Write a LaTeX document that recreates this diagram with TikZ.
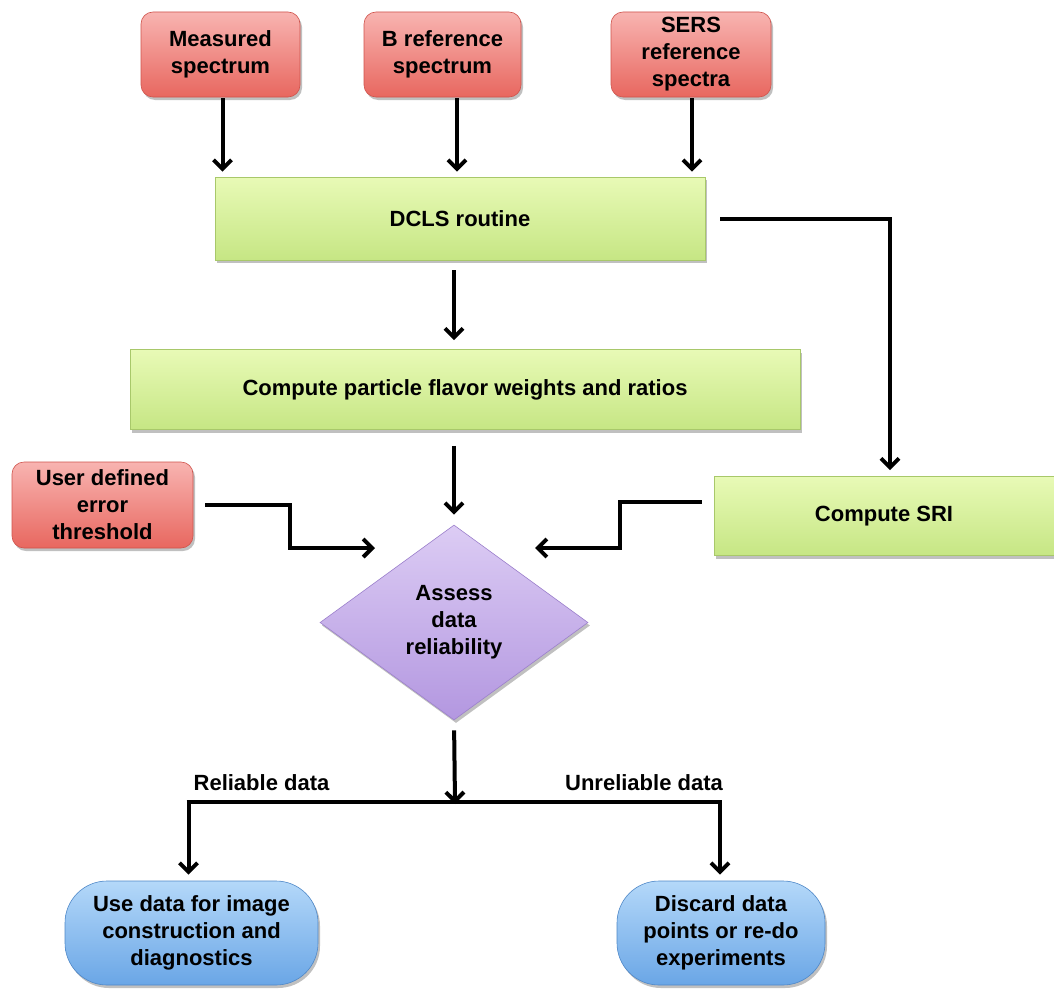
\documentclass[tikz,border=0pt]{standalone}
\usepackage{fontspec}
\setmainfont{Liberation Sans}
\usetikzlibrary{arrows.meta,shapes.geometric,shadows,calc}
\definecolor{redT}{HTML}{F8B4B1}
\definecolor{redB}{HTML}{E8675F}
\definecolor{redD}{HTML}{D0534C}
\definecolor{grnT}{HTML}{E8FAB6}
\definecolor{grnB}{HTML}{C6E684}
\definecolor{grnD}{HTML}{A8C86A}
\definecolor{purT}{HTML}{DCCCF4}
\definecolor{purB}{HTML}{B397E0}
\definecolor{purD}{HTML}{9C80CC}
\definecolor{bluT}{HTML}{B4D8F9}
\definecolor{bluB}{HTML}{6AA6E6}
\definecolor{bluD}{HTML}{4F88C8}
\tikzset{
  txt/.style={font=\bfseries\fontsize{22}{27}\selectfont, align=center, text=black},
  shd/.style={drop shadow={shadow xshift=2pt, shadow yshift=-3pt, opacity=0.35, fill=black!70}},
  inbox/.style={txt, shd, draw=redD, line width=0.6pt, rounded corners=12pt, top color=redT, bottom color=redB, inner sep=0pt},
  procbox/.style={txt, shd, draw=grnD, line width=0.6pt, top color=grnT, bottom color=grnB, inner sep=0pt},
  decbox/.style={txt, shd, diamond, draw=purD, line width=0.6pt, top color=purT, bottom color=purB, inner sep=0pt},
  outbox/.style={txt, shd, draw=bluD, line width=0.6pt, rounded corners=42pt, top color=bluT, bottom color=bluB, inner sep=0pt},
  arr/.style={line width=4pt, -{Straight Barb[length=9pt,width=18pt]}},
  lnk/.style={line width=4pt},
  lbl/.style={font=\bfseries\fontsize{22}{27}\selectfont, text=black}
}
\begin{document}
\begin{tikzpicture}[x=1pt,y=-1pt]
\useasboundingbox[fill=white] (0,0) rectangle (1054,990);
% inputs
\node[inbox, minimum width=159pt, minimum height=85pt] (meas) at (220.5,54.5) {Measured\\spectrum};
\node[inbox, minimum width=157pt, minimum height=85pt] (bref) at (442.5,54.5) {B reference\\spectrum};
\node[inbox, minimum width=160pt, minimum height=85pt] (sers) at (691,54.5) {SERS\\reference\\spectra};
\node[inbox, minimum width=181pt, minimum height=86pt] (user) at (102.5,505) {User defined\\error\\threshold};
% processes
\node[procbox, minimum width=490pt, minimum height=83pt] (dcls) at (460,218.5) {DCLS routine};
\node[procbox, minimum width=670pt, minimum height=80pt] (part) at (465,389.5) {Compute particle flavor weights and ratios};
\node[procbox, minimum width=346pt, minimum height=79pt] (sri) at (887,516) {\hspace*{-6pt}Compute SRI};
% decision
\node[decbox, minimum width=268pt, minimum height=195pt] (diam) at (454,622.5) {Assess\\data\\reliability};
% outputs
\node[outbox, minimum width=253pt, minimum height=104pt] (use) at (191.5,933) {Use data for image\\construction and\\diagnostics};
\node[outbox, minimum width=208pt, minimum height=104pt] (disc) at (721,933) {Discard data\\points or re-do\\experiments};
% coordinates
\coordinate (inL) at (375,548);
\coordinate (inR) at (535,548);
\coordinate (split) at (455,802);
% connectors
\draw[arr, shorten <=1pt, shorten >=5pt] ([xshift=2pt]meas.south) -- ([xshift=2pt]meas.south |- dcls.north);
\draw[arr, shorten <=1pt, shorten >=5pt] ([xshift=14.5pt]bref.south) -- ([xshift=14.5pt]bref.south |- dcls.north);
\draw[arr, shorten <=1pt, shorten >=5pt] ([xshift=1pt]sers.south) -- ([xshift=1pt]sers.south |- dcls.north);
\draw[arr, shorten <=10pt, shorten >=9pt] (dcls.south -| diam.north) -- (part.north -| diam.north);
\draw[arr, shorten <=16pt, shorten >=10pt] (part.south -| diam.north) -- (diam.north);
\draw[arr, shorten <=15pt, shorten >=6pt] (dcls.east) -| ([xshift=3pt]sri.north);
\draw[arr, shorten <=12pt] (user.east) -- ++(97,0) |- (inL);
\draw[arr, shorten <=12pt] ([yshift=14pt]sri.west) -- ++(-94,0) |- (inR);
\draw[arr, shorten <=10pt, shorten >=-2pt] (diam.south) -- (split);
\draw[lnk] ($(split -| use.north)+(-5,0)$) -- ($(split -| disc.north)+(1,0)$);
\draw[arr, shorten >=6pt] (split -| use.north) ++(-3,0) coordinate (sl) -- (sl |- use.north);
\draw[arr, shorten >=6pt] (split -| disc.north) ++(-1,0) coordinate (sr) -- (sr |- disc.north);
% labels
\node[lbl] (rel) at (261.5,783) {Reliable data};
\node[lbl] (unrel) at (644,783) {Unreliable data};
\end{tikzpicture}
\end{document}
